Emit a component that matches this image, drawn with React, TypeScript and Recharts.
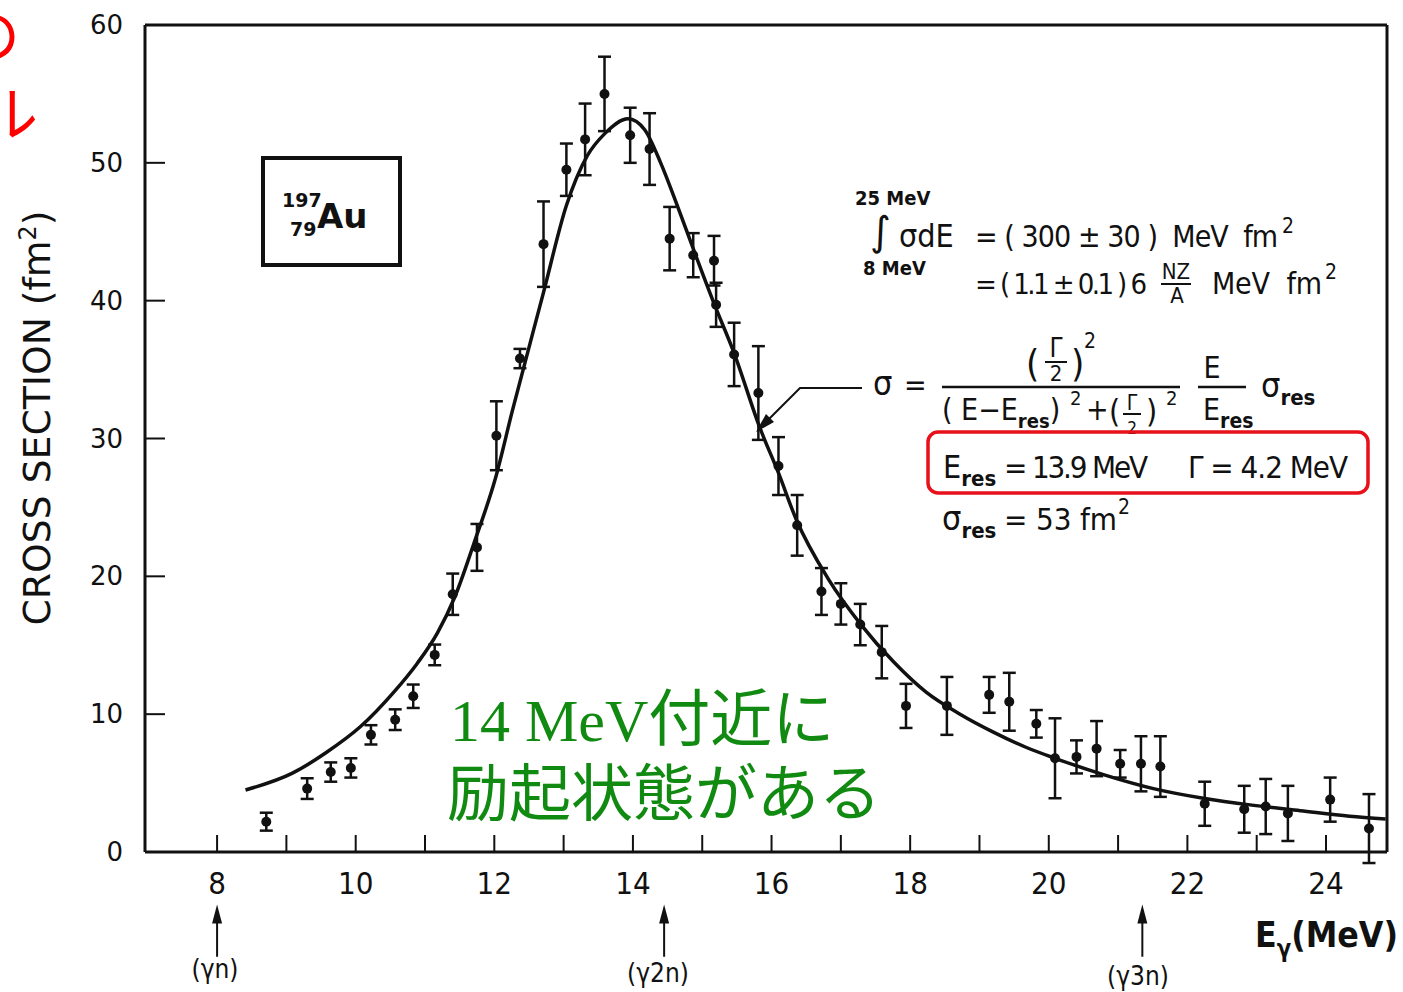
import React from "react";
import {
  ComposedChart,
  Line,
  Scatter,
  ErrorBar,
  XAxis,
  YAxis,
  ReferenceLine,
  ReferenceDot,
} from "recharts";

// measured points (E in MeV, sigma in fm^2, symmetric error)
const energies = [
  8.71, 9.3, 9.64, 9.93, 10.22, 10.57, 10.83, 11.14, 11.4, 11.75, 12.03, 12.37, 12.71, 13.04, 13.31, 13.59,
  13.96, 14.24, 14.53, 14.87, 15.17, 15.2, 15.46, 15.81, 16.1, 16.37, 16.72, 17.0, 17.28, 17.59, 17.94,
  18.53, 19.14, 19.43, 19.82, 20.09, 20.4, 20.69, 21.03, 21.33, 21.61, 22.25, 22.82, 23.13, 23.45, 24.06, 24.62,
];
const crossSections = [
  2.2, 4.6, 5.8, 6.1, 8.5, 9.6, 11.3, 14.3, 18.7, 22.1, 30.2, 35.8, 44.1, 49.5, 51.7, 55.0,
  52.0, 51.0, 44.5, 43.3, 42.9, 39.7, 36.1, 33.3, 28.0, 23.7, 18.9, 18.0, 16.5, 14.5, 10.6,
  10.6, 11.4, 10.9, 9.3, 6.8, 6.9, 7.5, 6.4, 6.4, 6.2, 3.5, 3.1, 3.3, 2.8, 3.8, 1.7,
];
const errors = [
  0.65, 0.75, 0.7, 0.7, 0.7, 0.75, 0.85, 0.75, 1.5, 1.7, 2.5, 0.7, 3.1, 1.9, 2.6, 2.7,
  2.0, 2.6, 2.3, 1.6, 1.8, 1.6, 2.3, 3.4, 2.1, 2.2, 1.7, 1.5, 1.5, 1.9, 1.6,
  2.1, 1.3, 2.1, 1.0, 2.9, 1.2, 2.0, 1.0, 2.0, 2.2, 1.6, 1.7, 2.0, 2.0, 1.6, 2.5,
];

// fitted curve
const curveEnergies = [
  8.41, 9.08, 9.57, 10.07, 10.55, 10.89, 11.18, 11.43, 11.72, 12.01, 12.26, 12.71, 13.04, 13.34, 13.59,
  13.93, 14.17, 14.4, 14.64, 14.89, 15.17, 15.46, 15.83, 16.1, 16.35, 16.82, 17.29, 17.76, 18.23, 18.72,
  19.2, 19.67, 20.09, 20.8, 21.51, 22.23, 22.93, 23.63, 24.34, 24.86,
];
const curveValues = [
  4.5, 5.7, 7.2, 9.1, 11.6, 13.7, 15.9, 18.5, 22.6, 27.0, 32.0, 40.6, 46.9, 50.5, 52.1,
  53.2, 52.4, 50.0, 46.9, 43.5, 39.8, 36.2, 30.8, 27.5, 24.2, 19.8, 16.5, 13.8, 11.6, 10.0,
  8.7, 7.6, 6.8, 5.6, 4.6, 3.9, 3.4, 3.0, 2.6, 2.4,
];

const xTicks = [8, 9, 10, 11, 12, 13, 14, 15, 16, 17, 18, 19, 20, 21, 22, 23, 24];
const yTicks = [0, 10, 20, 30, 40, 50, 60];
const thresholds = [
  { e: 8.0, label: "(γn)" },
  { e: 14.45, label: "(γ2n)" },
  { e: 21.35, label: "(γ3n)" },
];

const X_DOMAIN: [number, number] = [6.96, 24.88];
const INK = "#111";
const NARROW = "'Liberation Sans Narrow','DejaVu Sans Condensed','DejaVu Sans',sans-serif";
const SANS = "'DejaVu Sans',sans-serif";

const points = energies.map((e, i) => ({ e, v: crossSections[i], err: errors[i] }));
const curve = curveEnergies.map((e, i) => ({ e, v: curveValues[i] }));

function XTick(props: any) {
  const { x, y, payload } = props;
  const v = payload.value;
  return (
    <g>
      <line x1={x} x2={x} y1={y} y2={y - 17} stroke={INK} strokeWidth={2} />
      {v % 2 === 0 && (
        <text x={x} y={y + 42} textAnchor="middle" fontFamily={NARROW} fontStretch="condensed" fontSize={31} fill={INK}>
          {v}
        </text>
      )}
    </g>
  );
}

function YTick(props: any) {
  const { x, y, payload } = props;
  return (
    <g>
      <line x1={x} x2={x + 20} y1={y} y2={y} stroke={INK} strokeWidth={2} />
      <text x={x - 22} y={y + 9} textAnchor="end" fontFamily={SANS} fontSize={26} fill={INK}>
        {payload.value}
      </text>
    </g>
  );
}

const Dot = (p: any) => <circle cx={p.cx} cy={p.cy} r={5} fill={INK} />;

const UpArrow = (p: any) => (
  <polygon points={`${p.cx},${p.cy} ${p.cx - 5},${p.cy + 19} ${p.cx + 5},${p.cy + 19}`} fill={INK} />
);

function Notes() {
  const t = { fontFamily: NARROW, fontStretch: "condensed" as const, fill: INK };
  return (
    <svg width={1403} height={992} style={{ position: "absolute", left: 0, top: 0, pointerEvents: "none" }}>
      {/* cropped slide fragments */}
      <text x={-40} y={58} fontFamily="'Noto Sans CJK JP'" fontSize={60} fill="#ff0000">の</text>
      <text x={-22} y={136} fontFamily="'Noto Sans CJK JP'" fontSize={60} fill="#ff0000">ル</text>

      {/* axis titles */}
      <text transform="translate(50 418) rotate(-90)" textAnchor="middle" {...t} fontSize={38} textLength={415} lengthAdjust="spacingAndGlyphs">
        CROSS SECTION (fm<tspan dy={-14} fontSize={24}>2</tspan><tspan dy={14}>)</tspan>
      </text>
      <text x={1255} y={947} {...t} fontSize={36} fontWeight="bold" textLength={143} lengthAdjust="spacingAndGlyphs">
        E<tspan dy={10} fontSize={24}>γ</tspan><tspan dy={-10}>(MeV)</tspan>
      </text>
      {thresholds.map((d, i) => (
        <text key={d.label} x={[215, 658, 1138][i]} y={[978, 982, 985][i]} textAnchor="middle" {...t} fontSize={26}>
          {d.label}
        </text>
      ))}

      {/* nucleus box */}
      <rect x={263} y={158} width={137} height={107} fill="none" stroke={INK} strokeWidth={4} />
      <text x={282} y={207} fontFamily={SANS} fontWeight="bold" fontSize={19} fill={INK}>197</text>
      <text x={290} y={236} fontFamily={SANS} fontWeight="bold" fontSize={19} fill={INK}>79</text>
      <text x={317} y={228} fontFamily={SANS} fontWeight="bold" fontSize={34} fill={INK}>Au</text>

      {/* integral */}
      <text x={855} y={205} {...t} fontWeight="bold" fontSize={20}>25 MeV</text>
      <text x={870} y={245} fontFamily={SANS} fontSize={40} fill={INK}>∫</text>
      <text x={899} y={247} {...t} fontSize={32}>σdE</text>
      <text x={975} y={247} {...t} fontSize={30} style={{ whiteSpace: "pre" }} textLength={303} lengthAdjust="spacing">
        = ( 300 ± 30 )  MeV  fm
      </text>
      <text x={1282} y={233} {...t} fontSize={21}>2</text>
      <text x={863} y={275} {...t} fontWeight="bold" fontSize={20}>8 MeV</text>
      <text x={975} y={294} {...t} fontSize={29} style={{ whiteSpace: "pre" }} textLength={172} lengthAdjust="spacing">
        = ( 1.1 ± 0.1 ) 6
      </text>
      <text x={1176} y={279} textAnchor="middle" {...t} fontSize={22}>NZ</text>
      <line x1={1161} x2={1191} y1={284} y2={284} stroke={INK} strokeWidth={2} />
      <text x={1177} y={303} textAnchor="middle" {...t} fontSize={22}>A</text>
      <text x={1212} y={294} {...t} fontSize={30} style={{ whiteSpace: "pre" }} textLength={110} lengthAdjust="spacing">
        MeV  fm
      </text>
      <text x={1325} y={279} {...t} fontSize={21}>2</text>

      {/* Lorentz formula */}
      <polyline points="862,388 800,388 768,420" fill="none" stroke={INK} strokeWidth={2} />
      <polygon points="756,432 774,422 766,414" fill={INK} />
      <text x={873} y={395} {...t} fontSize={34}>σ</text>
      <text x={904} y={395} {...t} fontSize={30}>=</text>
      <line x1={942} x2={1180} y1={387} y2={387} stroke={INK} strokeWidth={2.5} />
      <text x={1026} y={376} {...t} fontSize={38}>(</text>
      <text x={1056} y={357} textAnchor="middle" {...t} fontSize={26}>Γ</text>
      <line x1={1045} x2={1067} y1={362} y2={362} stroke={INK} strokeWidth={2} />
      <text x={1056} y={381} textAnchor="middle" {...t} fontSize={22}>2</text>
      <text x={1071} y={376} {...t} fontSize={38}>)</text>
      <text x={1084} y={348} {...t} fontSize={21}>2</text>
      <text x={942} y={420} {...t} fontSize={30} style={{ whiteSpace: "pre" }}>
        ( E−E<tspan dy={8} fontSize={20} fontWeight="bold">res</tspan><tspan dy={-8}>)</tspan>
      </text>
      <text x={1070} y={405} {...t} fontSize={20}>2</text>
      <text x={1086} y={420} {...t} fontSize={30}>+</text>
      <text x={1109} y={422} {...t} fontSize={32}>(</text>
      <text x={1132} y={410} textAnchor="middle" {...t} fontSize={21}>Γ</text>
      <line x1={1123} x2={1141} y1={414} y2={414} stroke={INK} strokeWidth={2} />
      <text x={1132} y={434} textAnchor="middle" {...t} fontSize={17}>2</text>
      <text x={1146} y={422} {...t} fontSize={32}>)</text>
      <text x={1166} y={405} {...t} fontSize={20}>2</text>
      <text x={1212} y={378} textAnchor="middle" {...t} fontSize={30}>E</text>
      <line x1={1198} x2={1246} y1={387} y2={387} stroke={INK} strokeWidth={2.5} />
      <text x={1203} y={420} {...t} fontSize={30}>
        E<tspan dy={8} fontSize={21} fontWeight="bold">res</tspan>
      </text>
      <text x={1261} y={397} {...t} fontSize={34}>
        σ<tspan dy={8} fontSize={22} fontWeight="bold">res</tspan>
      </text>

      {/* parameters */}
      <rect x={928} y={432} width={440} height={61} rx={10} fill="none" stroke="#e8101a" strokeWidth={3.5} />
      <text x={943} y={478} {...t} fontSize={32}>
        E<tspan dy={8} fontSize={22} fontWeight="bold">res</tspan>
      </text>
      <text x={1004} y={478} {...t} fontSize={31} style={{ whiteSpace: "pre" }} textLength={144} lengthAdjust="spacing">
        = 13.9 MeV
      </text>
      <text x={1188} y={478} {...t} fontSize={31} style={{ whiteSpace: "pre" }} textLength={160} lengthAdjust="spacing">
        Γ = 4.2 MeV
      </text>
      <text x={942} y={530} {...t} fontSize={34}>
        σ<tspan dy={8} fontSize={22} fontWeight="bold">res</tspan>
      </text>
      <text x={1004} y={530} {...t} fontSize={31} style={{ whiteSpace: "pre" }} textLength={113} lengthAdjust="spacing">
        = 53 fm
      </text>
      <text x={1118} y={514} {...t} fontSize={21}>2</text>

      {/* green note */}
      <text x={450} y={741} fill="#118a11" fontSize={60} fontFamily="'Liberation Serif',serif">
        14 MeV<tspan fontFamily="'Noto Sans CJK JP'" fontSize={62}>付近に</tspan>
      </text>
      <text x={447} y={816} fill="#118a11" fontSize={62} fontFamily="'Noto Sans CJK JP'">
        励起状態がある
      </text>
    </svg>
  );
}

export default function App() {
  return (
    <div style={{ position: "relative", width: 1403, height: 992, background: "#fff" }}>
      <style>{"body{margin:0}"}</style>
      <ComposedChart width={1403} height={992} margin={{ top: 25, right: 16, bottom: 80, left: 85 }}>
        <XAxis
          dataKey="e"
          type="number"
          domain={X_DOMAIN}
          allowDataOverflow
          ticks={xTicks}
          interval={0}
          height={60}
          tickSize={0}
          tickMargin={0}
          tickLine={false}
          axisLine={{ stroke: INK, strokeWidth: 3 }}
          tick={<XTick />}
        />
        <YAxis
          type="number"
          domain={[0, 60]}
          allowDataOverflow
          ticks={yTicks}
          interval={0}
          width={60}
          tickSize={0}
          tickMargin={0}
          tickLine={false}
          axisLine={{ stroke: INK, strokeWidth: 3 }}
          tick={<YTick />}
        />
        <ReferenceLine y={60} stroke={INK} strokeWidth={3} ifOverflow="visible" />
        <ReferenceLine x={X_DOMAIN[1]} stroke={INK} strokeWidth={3} ifOverflow="visible" />
        {thresholds.map((d) => (
          <ReferenceLine
            key={d.label}
            segment={[{ x: d.e, y: -4.6 }, { x: d.e, y: -7.6 }]}
            stroke={INK}
            strokeWidth={2}
            ifOverflow="visible"
          />
        ))}
        {thresholds.map((d) => (
          <ReferenceDot key={d.label + "h"} x={d.e} y={-3.8} r={1} ifOverflow="visible" shape={UpArrow} />
        ))}
        <Line
          data={curve}
          dataKey="v"
          type="monotone"
          dot={false}
          stroke={INK}
          strokeWidth={3.5}
          isAnimationActive={false}
        />
        <Scatter data={points} dataKey="v" shape={Dot} isAnimationActive={false}>
          <ErrorBar dataKey="err" direction="y" width={6.5} stroke={INK} strokeWidth={2.5} isAnimationActive={false} />
        </Scatter>
      </ComposedChart>
      <Notes />
    </div>
  );
}
